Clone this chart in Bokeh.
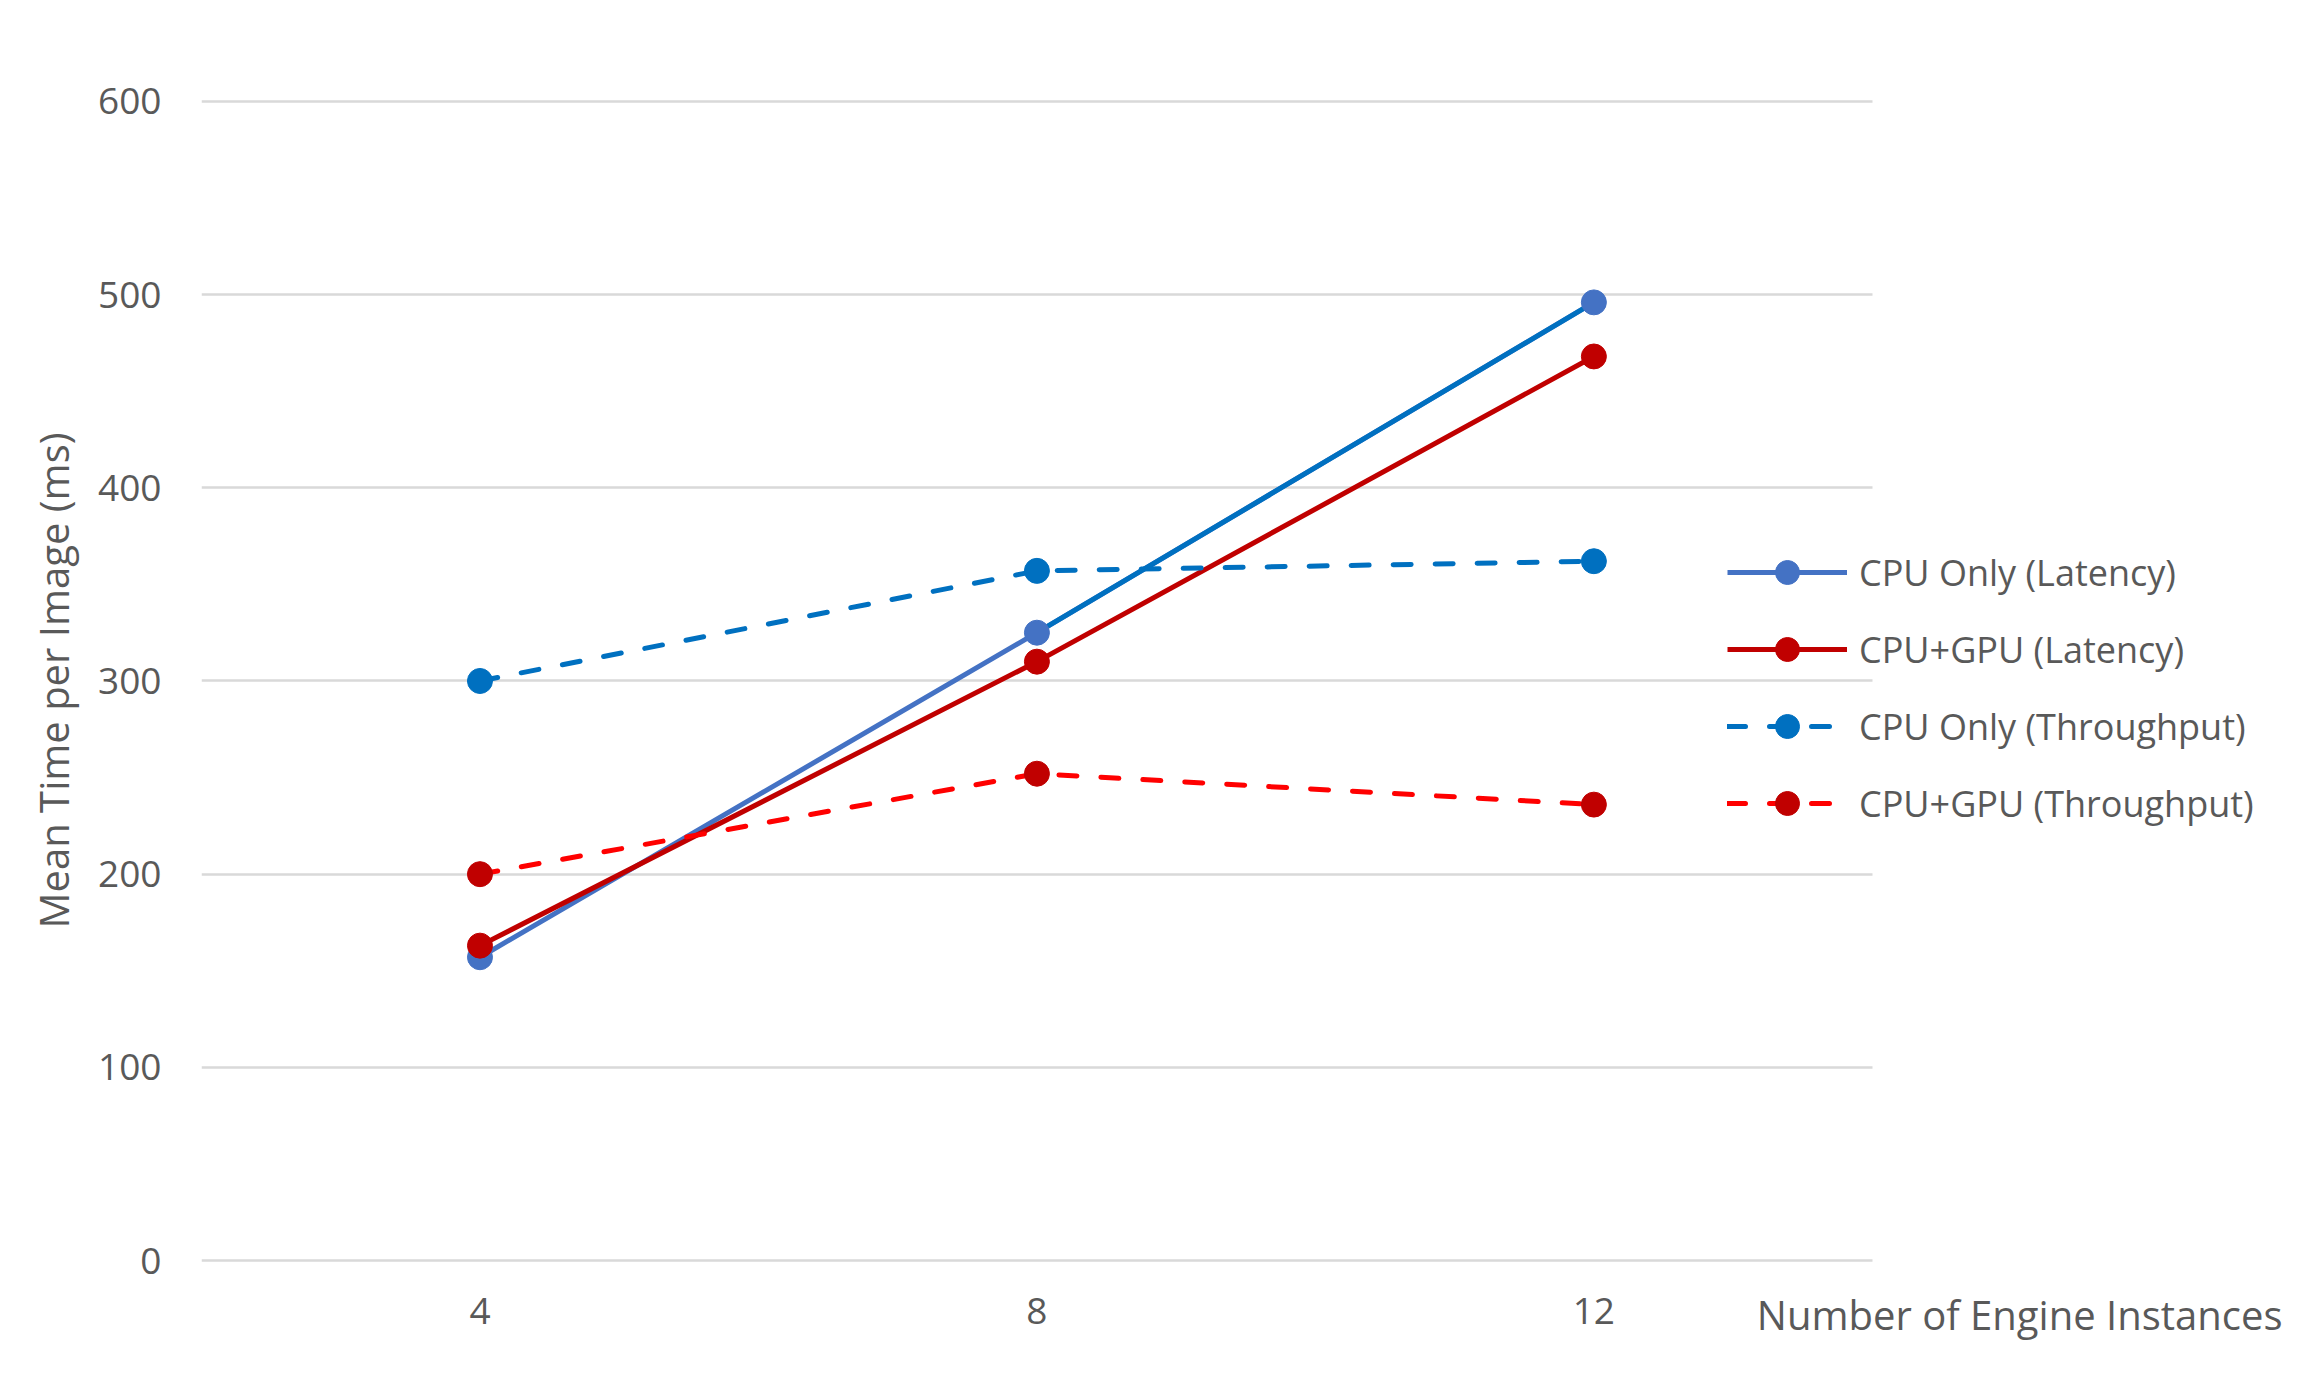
from bokeh.plotting import figure
from bokeh.models import Range1d, Legend, LegendItem, FixedTicker, Label
from bokeh.embed import file_html
from bokeh.resources import INLINE

# ---- data ----
instances = [4, 8, 12]
cpu_latency = [157, 325, 496]
gpu_latency = [163, 310, 468]
cpu_throughput = [300, 357, 362]
gpu_throughput = [200, 252, 236]
y_ticks = [0, 100, 200, 300, 400, 500, 600]

FONT = "Open Sans"
TXT = "#595959"
X_MIN, X_PLOT_MAX = 2, 14

p = figure(width=2284, height=1370, output_backend="svg", toolbar_location=None,
           x_range=Range1d(X_MIN, 16.96), y_range=Range1d(-44, 644.5),
           min_border_left=201, min_border_right=0, min_border_top=15, min_border_bottom=25)
p.outline_line_color = None
p.background_fill_color = "white"

# y axis
p.yaxis.ticker = FixedTicker(ticks=y_ticks)
p.yaxis.axis_line_color = None
p.yaxis.major_tick_line_color = None
p.yaxis.minor_tick_line_color = None
p.yaxis.major_label_text_font = FONT
p.yaxis.major_label_text_font_size = "37px"
p.yaxis.major_label_text_color = TXT
p.yaxis.major_label_standoff = 34
p.yaxis.axis_label = "Mean Time per Image (ms)"
p.yaxis.axis_label_text_font = FONT
p.yaxis.axis_label_text_font_size = "40px"
p.yaxis.axis_label_text_font_style = "normal"
p.yaxis.axis_label_text_color = TXT
p.yaxis.axis_label_standoff = 14

# x axis (labels pulled up to sit just under the zero line)
p.xaxis.ticker = FixedTicker(ticks=instances)
p.xaxis.axis_line_color = None
p.xaxis.major_tick_line_color = None
p.xaxis.minor_tick_line_color = None
p.xaxis.major_label_text_font = FONT
p.xaxis.major_label_text_font_size = "37px"
p.xaxis.major_label_text_color = TXT
p.xaxis.major_label_standoff = -54

# horizontal gridlines limited to the plot area (x 2..14)
p.xgrid.grid_line_color = None
try:
    p.ygrid.cross_bounds = (X_MIN, X_PLOT_MAX)
    p.ygrid.grid_line_color = "#D9D9D9"
    p.ygrid.grid_line_width = 2.5
except Exception:
    p.ygrid.grid_line_color = None
    p.segment(x0=[X_MIN] * len(y_ticks), x1=[X_PLOT_MAX] * len(y_ticks), y0=y_ticks, y1=y_ticks,
              line_color="#D9D9D9", line_width=2.5, level="underlay")

LW = 5
MS = 25

# CPU Only (Latency)
l1 = p.line(instances, cpu_latency, line_color="#4472C4", line_width=LW)
p.segment(x0=instances[1:2], y0=cpu_latency[1:2], x1=instances[2:3], y1=cpu_latency[2:3],
          line_color="#0070C0", line_width=LW)
s1 = p.scatter(instances, cpu_latency, size=MS, fill_color="#4472C4", line_color="#4472C4")

# CPU+GPU (Latency)
l2 = p.line(instances, gpu_latency, line_color="#C00000", line_width=LW)
s2 = p.scatter(instances, gpu_latency, size=MS, fill_color="#C00000", line_color="#C00000")

# CPU Only (Throughput)
l3 = p.line(instances, cpu_throughput, line_color="#0070C0", line_width=LW,
            line_dash="18 24", line_cap="round")
s3 = p.scatter(instances, cpu_throughput, size=MS, fill_color="#0070C0", line_color="#0070C0")

# CPU+GPU (Throughput)
l4 = p.line(instances, gpu_throughput, line_color="#FF0000", line_width=LW,
            line_dash="18 24", line_cap="round")
s4 = p.scatter(instances, gpu_throughput, size=MS, fill_color="#C00000", line_color="#C00000")

legend = Legend(items=[
    LegendItem(label="CPU Only (Latency)", renderers=[l1, s1]),
    LegendItem(label="CPU+GPU (Latency)", renderers=[l2, s2]),
    LegendItem(label="CPU Only (Throughput)", renderers=[l3, s3]),
    LegendItem(label="CPU+GPU (Throughput)", renderers=[l4, s4]),
], location=(1526, 512))
legend.background_fill_alpha = 0
legend.border_line_color = None
legend.margin = 0
legend.padding = 0
legend.glyph_width = 120
legend.glyph_height = 60
legend.label_height = 40
legend.spacing = 17
legend.label_standoff = 12
legend.label_text_font = FONT
legend.label_text_font_size = "36px"
legend.label_text_color = TXT
p.add_layout(legend, "center")

xtitle = Label(x=2081, y=31, x_units="screen", y_units="screen",
               text="Number of Engine Instances", text_font=FONT, text_font_size="40px",
               text_color=TXT, text_align="right", text_baseline="middle")
p.add_layout(xtitle)

open("out.html", "w").write(file_html(p, INLINE))
